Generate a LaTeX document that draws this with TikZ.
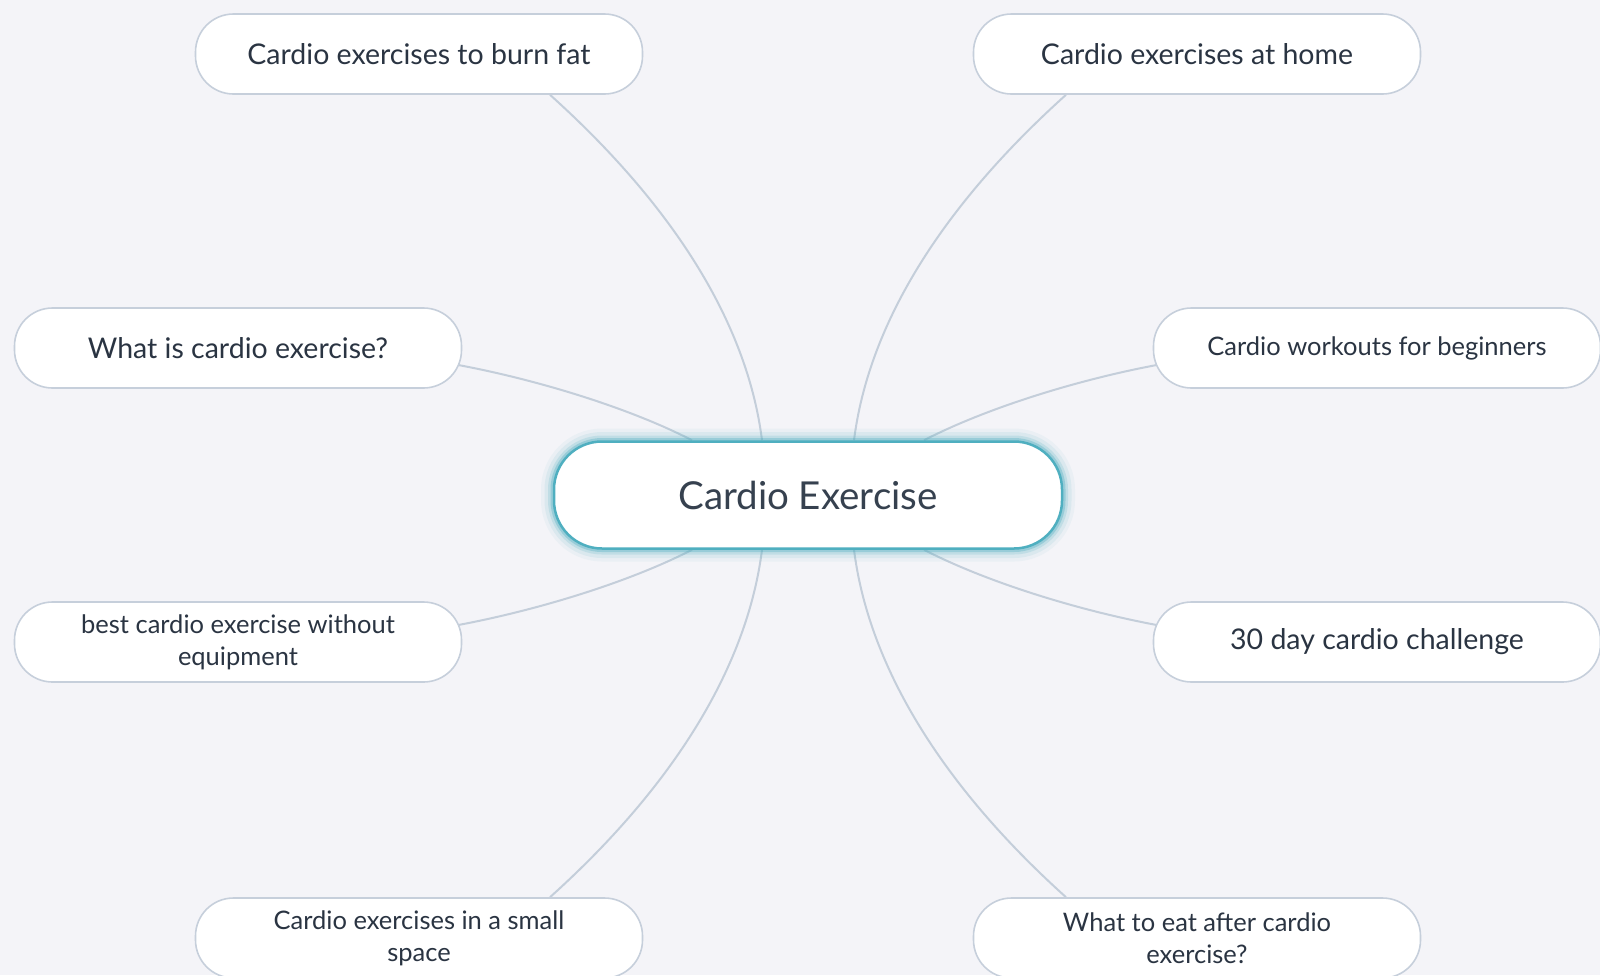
\documentclass[tikz,border=0pt]{standalone}
\usepackage{fontspec}
\setmainfont{Lato}
\usetikzlibrary{calc}

\definecolor{paper}{HTML}{F4F4F8}
\definecolor{leafline}{HTML}{C6CFDB}
\definecolor{linkc}{HTML}{C4CEDA}
\definecolor{ink}{HTML}{2A3442}
\definecolor{hubink}{HTML}{36414F}
\definecolor{glow}{HTML}{4FAFC0}

\pgfdeclarelayer{paperlayer}
\pgfdeclarelayer{links}
\pgfsetlayers{paperlayer,links,main}

\tikzset{
  leaf/.style={draw=leafline, line width=1.6pt, fill=white, rounded corners=38pt,
    minimum width=447pt, minimum height=80pt, inner sep=0pt, align=center,
    text=ink, font=\fontsize{28.5}{32}\selectfont},
  longleaf/.style={leaf, font=\fontsize{25.5}{32}\selectfont},
  hub/.style={draw=glow, line width=2.5pt, fill=white, rounded corners=48pt,
    minimum width=508pt, minimum height=107pt, inner sep=0pt,
    text=hubink, font=\fontsize{38.5}{44}\selectfont,
    preaction={draw=glow, draw opacity=0.06, line width=26pt},
    preaction={draw=glow, draw opacity=0.10, line width=19pt},
    preaction={draw=glow, draw opacity=0.18, line width=12pt},
    preaction={draw=glow, draw opacity=0.35, line width=7pt}},
  link/.style={draw=linkc, line width=2pt}
}

\begin{document}
\begin{tikzpicture}[x=1pt, y=-1pt]
\useasboundingbox (0,0) rectangle (1600,975);
\begin{pgfonlayer}{paperlayer}
  \fill[paper] (0,0) rectangle (1600,975);
\end{pgfonlayer}

% central topic
\node[hub] (c) at (808,495) {Cardio Exercise};

% subtopics
\node[leaf]     (tl) at (419,54)   {Cardio exercises to burn fat};
\node[leaf]     (tr) at (1197,54)  {Cardio exercises at home};
\node[leaf]     (ml) at (238,348)  {What is cardio exercise?};
\node[longleaf] (mr) at (1377,348) {Cardio workouts for beginners};
\node[longleaf] (ll) at (238,642)  {best cardio exercise without\\equipment};
\node[leaf]     (lr) at (1377,642) {30 day cardio challenge};
\node[longleaf] (bl) at (419,938)  {Cardio exercises in a small\\space};
\node[longleaf] (br) at (1197,938) {What to eat after cardio\\exercise?};

% curved branches behind the nodes
\begin{pgfonlayer}{links}
  \draw[link] ([xshift=131pt]tl.south) .. controls +(130,117) and +(-14,-111) .. ([xshift=-46pt]c.north);
  \draw[link] ([xshift=-131pt]tr.south) .. controls +(-130,117) and +(14,-111) .. ([xshift=46pt]c.north);
  \draw[link] ([xshift=131pt]bl.north) .. controls +(130,-117) and +(-14,111) .. ([xshift=-46pt]c.south);
  \draw[link] ([xshift=-131pt]br.north) .. controls +(-130,-117) and +(14,111) .. ([xshift=46pt]c.south);
  \draw[link] ([xshift=-4pt,yshift=-17pt]ml.east) .. controls +(80,15) and +(-62,-32) .. ([xshift=-116pt]c.north);
  \draw[link] ([xshift=4pt,yshift=-17pt]mr.west) .. controls +(-80,15) and +(62,-32) .. ([xshift=116pt]c.north);
  \draw[link] ([xshift=-4pt,yshift=17pt]ll.east) .. controls +(80,-15) and +(-62,32) .. ([xshift=-116pt]c.south);
  \draw[link] ([xshift=4pt,yshift=17pt]lr.west) .. controls +(-80,-15) and +(62,32) .. ([xshift=116pt]c.south);
\end{pgfonlayer}
\end{tikzpicture}
\end{document}
